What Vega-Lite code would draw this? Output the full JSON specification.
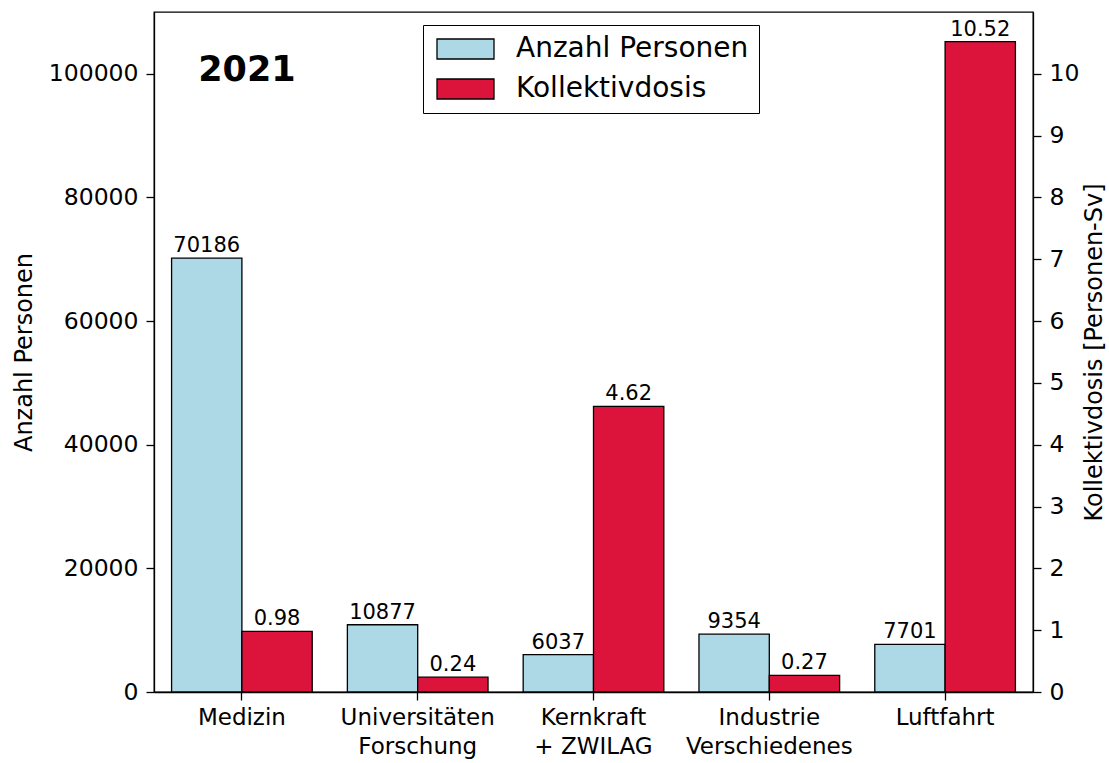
{
  "$schema": "https://vega.github.io/schema/vega-lite/v6.json",
  "autosize": {"type": "none"},
  "width": 879,
  "height": 680,
  "padding": {"left": 154, "top": 12, "right": 76, "bottom": 71},
  "background": "white",
  "config": {
    "font": "DejaVu Sans",
    "view": {"stroke": "black", "strokeWidth": 1.3},
    "axis": {
      "domainColor": "black", "domainWidth": 1.3, "tickColor": "black", "tickWidth": 1.3,
      "tickSize": 8, "labelColor": "black", "titleColor": "black", "labelFontSize": 23.5,
      "titleFontSize": 24, "titleFontWeight": "normal", "grid": false, "labelPadding": 8
    }
  },
  "data": {
    "values": [
      {"cat": "Medizin", "series": "Anzahl Personen", "value": 70186},
      {"cat": "Universitäten\nForschung", "series": "Anzahl Personen", "value": 10877},
      {"cat": "Kernkraft\n+ ZWILAG", "series": "Anzahl Personen", "value": 6037},
      {"cat": "Industrie\nVerschiedenes", "series": "Anzahl Personen", "value": 9354},
      {"cat": "Luftfahrt", "series": "Anzahl Personen", "value": 7701},
      {"cat": "Medizin", "series": "Kollektivdosis", "value": 0.98},
      {"cat": "Universitäten\nForschung", "series": "Kollektivdosis", "value": 0.24},
      {"cat": "Kernkraft\n+ ZWILAG", "series": "Kollektivdosis", "value": 4.62},
      {"cat": "Industrie\nVerschiedenes", "series": "Kollektivdosis", "value": 0.27},
      {"cat": "Luftfahrt", "series": "Kollektivdosis", "value": 10.52}
    ]
  },
  "layer": [
    {
      "layer": [
        {
          "transform": [{"filter": "datum.series === 'Anzahl Personen'"}],
          "mark": {"type": "bar", "stroke": "black", "strokeWidth": 1.3},
          "encoding": {
            "x": {"field": "cat", "type": "nominal", "sort": null,
              "scale": {"paddingInner": 0.2, "paddingOuter": 0.1},
              "axis": {"title": null, "labelAngle": 0, "labelExpr": "split(datum.label, '\\n')", "labelLineHeight": 29, "labelPadding": 6, "labelFontSize": 23}},
            "xOffset": {"field": "series", "type": "nominal", "scale": {"domain": ["Anzahl Personen", "Kollektivdosis"], "paddingInner": 0, "paddingOuter": 0}},
            "y": {"field": "value", "type": "quantitative", "scale": {"domain": [0, 110000], "nice": false, "zero": true},
              "axis": {"title": "Anzahl Personen", "values": [0, 20000, 40000, 60000, 80000, 100000], "format": "d", "titlePadding": 12}},
            "color": {"field": "series", "type": "nominal",
              "scale": {"domain": ["Anzahl Personen", "Kollektivdosis"], "range": ["#add8e6", "#dc143c"]},
              "legend": {
                "title": null, "orient": "none", "legendX": 269, "legendY": 13,
                "strokeColor": "black", "fillColor": "white", "padding": 10,
                "labelFontSize": 28, "labelColor": "black", "labelOffset": 55, "labelLimit": 500, "rowPadding": 12,
                "symbolType": "M-1,-1H4.7V1H-1Z", "symbolSize": 400,
                "symbolStrokeColor": "black", "symbolStrokeWidth": 1.3,
                "symbolOpacity": 1
              }}
          }
        },
        {
          "transform": [{"filter": "datum.series === 'Anzahl Personen'"}],
          "mark": {"type": "text", "fontSize": 21, "baseline": "alphabetic", "dy": -6, "color": "black"},
          "encoding": {
            "x": {"field": "cat", "type": "nominal", "sort": null},
            "xOffset": {"field": "series", "type": "nominal"},
            "y": {"field": "value", "type": "quantitative"},
            "text": {"field": "value", "type": "quantitative", "format": "d"}
          }
        },
        {
          "data": {"values": [{"label": "2021"}]},
          "mark": {"type": "text", "fontSize": 35, "fontWeight": "bold", "baseline": "alphabetic", "color": "black", "dx": 5},
          "encoding": {
            "x": {"datum": "Medizin", "type": "nominal"},
            "y": {"datum": 98800, "type": "quantitative"},
            "text": {"field": "label", "type": "nominal"}
          }
        }
      ]
    },
    {
      "layer": [
        {
          "transform": [{"filter": "datum.series === 'Kollektivdosis'"}],
          "mark": {"type": "bar", "stroke": "black", "strokeWidth": 1.3},
          "encoding": {
            "x": {"field": "cat", "type": "nominal", "sort": null},
            "xOffset": {"field": "series", "type": "nominal"},
            "y": {"field": "value", "type": "quantitative", "scale": {"domain": [0, 11], "nice": false, "zero": true},
              "axis": {"orient": "right", "title": "Kollektivdosis [Personen-Sv]", "values": [0,1,2,3,4,5,6,7,8,9,10], "format": "d",
                "titleAngle": 270, "titleBaseline": "top", "titlePadding": 4}},
            "color": {"field": "series", "type": "nominal"}
          }
        },
        {
          "transform": [{"filter": "datum.series === 'Kollektivdosis'"}],
          "mark": {"type": "text", "fontSize": 21, "baseline": "alphabetic", "dy": -6, "color": "black"},
          "encoding": {
            "x": {"field": "cat", "type": "nominal", "sort": null},
            "xOffset": {"field": "series", "type": "nominal"},
            "y": {"field": "value", "type": "quantitative"},
            "text": {"field": "value", "type": "quantitative", "format": ".2f"}
          }
        }
      ]
    }
  ],
  "resolve": {"scale": {"y": "independent"}, "axis": {"y": "independent"}}
}
